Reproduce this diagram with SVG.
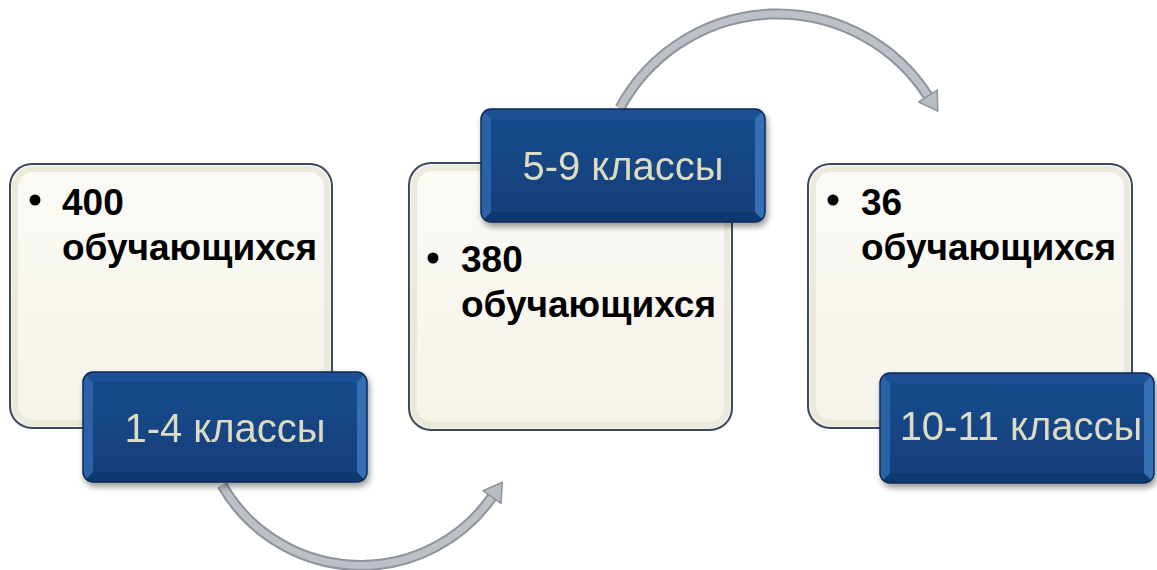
<svg xmlns="http://www.w3.org/2000/svg" width="1157" height="570" viewBox="0 0 1157 570">
<style>
.card{fill:url(#cream);stroke:#3c4a5e;stroke-width:2}
.cardin{fill:none;stroke:#e9e6d6;stroke-width:6;opacity:.8}
.tab{fill:#164a8a;stroke:#0b2a55;stroke-width:1.5}
.bt{fill:#1a5093}
.bb{fill:#0e3870}
.bl{fill:#2a62a6}
.br{fill:#3670b6}
.mid{fill:url(#blue)}
.num{font-family:"Liberation Sans",Arial,sans-serif;font-weight:bold;font-size:37px;fill:#000}
.lab{font-family:"Liberation Sans",Arial,sans-serif;font-size:40px;fill:#dedbc4;text-anchor:middle}
.shaftO{fill:none;stroke:#8f949c;stroke-width:11}
.shaft{fill:none;stroke:#bcc0c7;stroke-width:7}
</style>
<defs>
<linearGradient id="cream" x1="0" y1="0" x2="0" y2="1">
<stop offset="0" stop-color="#fbfaf5"/><stop offset="1" stop-color="#f5f3ea"/>
</linearGradient>
<linearGradient id="blue" x1="0" y1="0" x2="0" y2="1">
<stop offset="0" stop-color="#174b8c"/><stop offset="1" stop-color="#123f7b"/>
</linearGradient>
<clipPath id="c1"><rect x="83" y="372" width="284" height="110" rx="10"/></clipPath>
<clipPath id="c2"><rect x="481" y="109" width="284" height="113" rx="10"/></clipPath>
<clipPath id="c3"><rect x="880" y="373" width="274" height="110" rx="10"/></clipPath>
<filter id="sh" x="-10%" y="-10%" width="125%" height="130%">
<feGaussianBlur in="SourceAlpha" stdDeviation="3"/>
<feOffset dx="2" dy="4" result="b"/>
<feComponentTransfer><feFuncA type="linear" slope="0.4"/></feComponentTransfer>
<feMerge><feMergeNode/><feMergeNode in="SourceGraphic"/></feMerge>
</filter>
<marker id="ah" viewBox="0 0 24 24" refX="4" refY="12" markerWidth="24" markerHeight="24" markerUnits="userSpaceOnUse" orient="auto">
<path d="M4,1 L22,12 L4,23 Z" fill="#b8bcc3" stroke="#8f949c" stroke-width="1.5" stroke-linejoin="round"/>
</marker>
</defs>
<g id="connectors">
<path class="shaftO" d="M222,485 A160,160 0 0 0 492,497"/>
<path class="shaft" d="M222,485 A160,160 0 0 0 492,497" marker-end="url(#ah)"/>
<path class="shaftO" d="M620,108 A179,179 0 0 1 928,96"/>
<path class="shaft" d="M620,108 A179,179 0 0 1 928,96" marker-end="url(#ah)"/>
</g>
<g id="node1">
<rect class="card" x="10" y="164" width="322" height="264" rx="22"/>
<rect class="cardin" x="15" y="169" width="312" height="254" rx="18"/>
<circle cx="35" cy="200" r="5.5"/>
<text class="num" x="62" y="215">400</text>
<text class="num" x="62" y="260">обучающихся</text>
</g>
<g id="node2">
<rect class="card" x="409" y="163" width="323" height="267" rx="22"/>
<rect class="cardin" x="414" y="168" width="313" height="257" rx="18"/>
<circle cx="433" cy="258" r="5.5"/>
<text class="num" x="461" y="272">380</text>
<text class="num" x="461" y="317">обучающихся</text>
</g>
<g id="node3">
<rect class="card" x="808" y="164" width="324" height="264" rx="22"/>
<rect class="cardin" x="813" y="169" width="314" height="254" rx="18"/>
<circle cx="833" cy="200" r="5.5"/>
<text class="num" x="861" y="215">36</text>
<text class="num" x="861" y="260">обучающихся</text>
</g>
<g id="tab1" filter="url(#sh)">
<g clip-path="url(#c1)">
<rect class="tab" x="83" y="372" width="284" height="110"/>
<polygon class="bt" points="83,372 367,372 357,382 93,382"/>
<polygon class="bb" points="83,482 367,482 357,472 93,472"/>
<polygon class="bl" points="83,372 93,382 93,472 83,482"/>
<polygon class="br" points="367,372 357,382 357,472 367,482"/>
<rect class="mid" x="93" y="382" width="264" height="90"/>
</g>
<rect x="83" y="372" width="284" height="110" rx="10" fill="none" stroke="#0b2a55" stroke-width="1.5"/>
<text class="lab" x="225" y="442">1-4 классы</text>
</g>
<g id="tab2" filter="url(#sh)">
<g clip-path="url(#c2)">
<rect class="tab" x="481" y="109" width="284" height="113"/>
<polygon class="bt" points="481,109 765,109 755,119 491,119"/>
<polygon class="bb" points="481,222 765,222 755,212 491,212"/>
<polygon class="bl" points="481,109 491,119 491,212 481,222"/>
<polygon class="br" points="765,109 755,119 755,212 765,222"/>
<rect class="mid" x="491" y="119" width="264" height="93"/>
</g>
<rect x="481" y="109" width="284" height="113" rx="10" fill="none" stroke="#0b2a55" stroke-width="1.5"/>
<text class="lab" x="623" y="180">5-9 классы</text>
</g>
<g id="tab3" filter="url(#sh)">
<g clip-path="url(#c3)">
<rect class="tab" x="880" y="373" width="274" height="110"/>
<polygon class="bt" points="880,373 1154,373 1144,383 890,383"/>
<polygon class="bb" points="880,483 1154,483 1144,473 890,473"/>
<polygon class="bl" points="880,373 890,383 890,473 880,483"/>
<polygon class="br" points="1154,373 1144,383 1144,473 1154,483"/>
<rect class="mid" x="890" y="383" width="254" height="90"/>
</g>
<rect x="880" y="373" width="274" height="110" rx="10" fill="none" stroke="#0b2a55" stroke-width="1.5"/>
<text class="lab" x="1021" y="440">10-11 классы</text>
</g>
</svg>
